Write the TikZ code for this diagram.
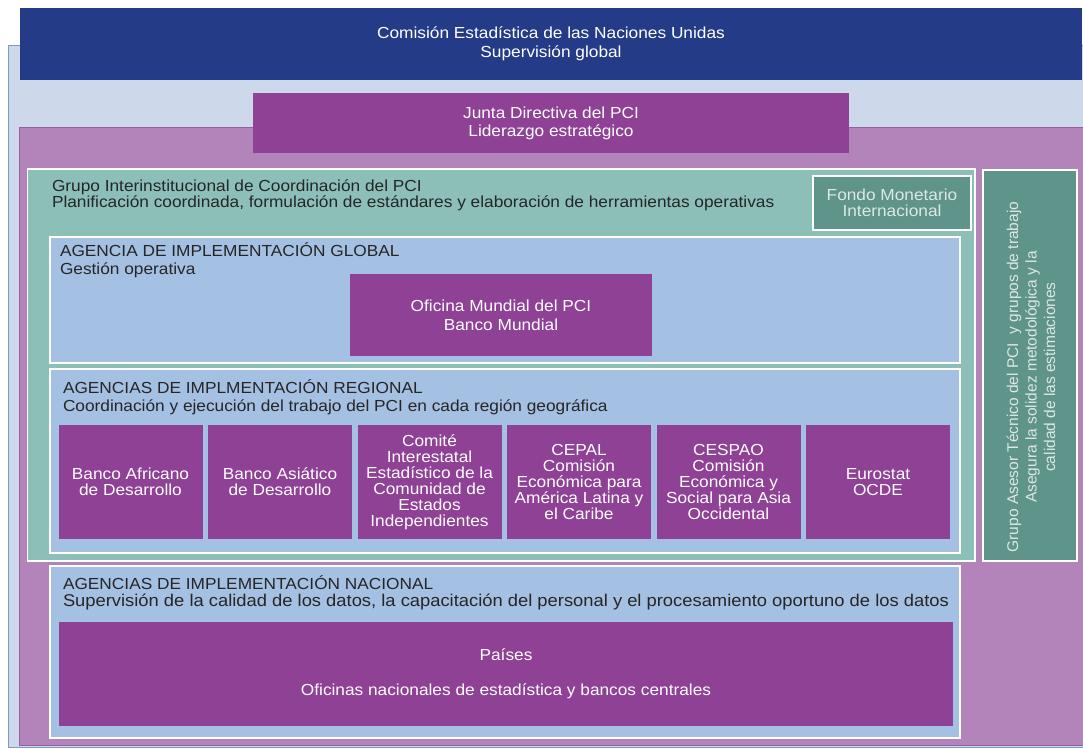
\documentclass[tikz,border=0pt]{standalone}
\usepackage{fontspec}
\setmainfont[FakeStretch=1.08]{Liberation Sans}
\newfontfamily\uprightsans{Liberation Sans}
\usetikzlibrary{positioning}

\definecolor{unblue}{RGB}{36,59,136}
\definecolor{paleblue}{RGB}{205,217,234}
\definecolor{paleedge}{RGB}{128,152,198}
\definecolor{lilac}{RGB}{179,132,186}
\definecolor{lilacedge}{RGB}{150,95,160}
\definecolor{plum}{RGB}{143,65,150}
\definecolor{seafoam}{RGB}{139,191,184}
\definecolor{pine}{RGB}{94,148,137}
\definecolor{skyblue}{RGB}{164,192,226}
\definecolor{ink}{RGB}{38,38,38}
\definecolor{mist}{RGB}{220,232,229}

\newcommand{\fs}[1]{\fontsize{16}{#1}\selectfont}

\begin{document}
\begin{tikzpicture}[x=1pt,y=-1pt]
      \tikzset{
        node distance=5.5pt,
        every node/.style={inner sep=0pt,outer sep=0pt,font=\fs{19}},
        panel/.style={anchor=north west,draw=white,line width=1.4pt},
        plumbox/.style={anchor=north west,fill=plum,text=white,align=center},
        label/.style={anchor=north west,align=left,text=ink}
      }
      \useasboundingbox (0,0) rectangle (1083,748);

      % frames
      \node[anchor=north west,fill=paleblue,draw=paleedge,line width=0.8pt,
            minimum width=1082pt,minimum height=702pt] (base) at (8,45.5) {};
      \node[anchor=north west,fill=unblue,text=white,align=center,
            minimum width=1062pt,minimum height=72pt] (un) at (20,8)
            {Comisión Estadística de las Naciones Unidas\\Supervisión global};
      \node[anchor=north west,fill=lilac,draw=lilacedge,line width=0.6pt,
            minimum width=1070pt,minimum height=618pt] (icp) at (19,127) {};
      \node[plumbox,font=\fs{18},minimum width=596pt,minimum height=60pt] (junta) at (253,93)
            {Junta Directiva del PCI\\Liderazgo estratégico};

      % coordinacion
      \node[panel,fill=seafoam,minimum width=947.5pt,minimum height=392pt] (gic) at (27.5,169) {};
      \node[label,font=\fs{14}] (gictxt) at (52,180)
            {Grupo Interinstitucional de Coordinación del PCI\\Planificación coordinada, formulación de estándares y elaboración de herramientas operativas};
      \node[panel,fill=pine,text=mist,align=center,font=\fs{15.5},
            minimum width=158pt,minimum height=54pt] (imf) at (813,176)
            {Fondo Monetario\\Internacional};
      \node[panel,fill=pine,minimum width=94pt,minimum height=391pt] (tag) at (983,170) {};
      \node[rotate=90,align=center,text=mist,font=\uprightsans\fontsize{15.5}{18.5}\selectfont] (tagtxt) at (1031,377)
            {Grupo Asesor Técnico del PCI\ \ y grupos de trabajo\\Asegura la solidez metodológica y la\\calidad de las estimaciones};

      % global
      \node[panel,fill=skyblue,minimum width=910pt,minimum height=126pt] (gia) at (50,237) {};
      \node[label,font=\fs{18}] (giatxt) at (60,243)
            {AGENCIA DE IMPLEMENTACIÓN GLOBAL\\Gestión operativa};
      \node[plumbox,minimum width=302pt,minimum height=82pt] (wb) at (350,274)
            {Oficina Mundial del PCI\\Banco Mundial};

      % regional
      \node[panel,fill=skyblue,minimum width=910pt,minimum height=184pt] (ria) at (50,369) {};
      \node[label,font=\fs{18}] (riatxt) at (63,380)
            {AGENCIAS DE IMPLMENTACIÓN REGIONAL\\Coordinación y ejecución del trabajo del PCI en cada región geográfica};
      \tikzset{every node/.append style={font=\fs{16},minimum width=144pt,minimum height=114pt}}
      \node[plumbox] (afdb) at (58.5,425) {Banco Africano\\de Desarrollo};
      \node[plumbox,right=of afdb] (adb) {Banco Asiático\\de Desarrollo};
      \node[plumbox,right=of adb] (cis) {Comité\\Interestatal\\Estadístico de la\\Comunidad de\\Estados\\Independientes};
      \node[plumbox,right=of cis] (cepal) {CEPAL\\Comisión\\Económica para\\América Latina y\\el Caribe};
      \node[plumbox,right=of cepal] (cespao) {CESPAO\\Comisión\\Económica y\\Social para Asia\\Occidental};
      \node[plumbox,right=of cespao] (ocde) {Eurostat\\OCDE};
      \tikzset{every node/.style={inner sep=0pt,outer sep=0pt,font=\fs{19}}}

      % nacional
      \node[panel,fill=skyblue,minimum width=910pt,minimum height=172pt] (nia) at (50,566) {};
      \node[label,font=\fs{16.5}] (niatxt) at (63,576)
            {AGENCIAS DE IMPLEMENTACIÓN NACIONAL\\\fontsize{17}{16.5}\selectfont Supervisión de la calidad de los datos, la capacitación del personal y el procesamiento oportuno de los datos};
      \node[plumbox,font=\fs{35},minimum width=894pt,minimum height=104pt] (ctry) at (59,622)
            {Países\\Oficinas nacionales de estadística y bancos centrales};
\end{tikzpicture}
\end{document}
